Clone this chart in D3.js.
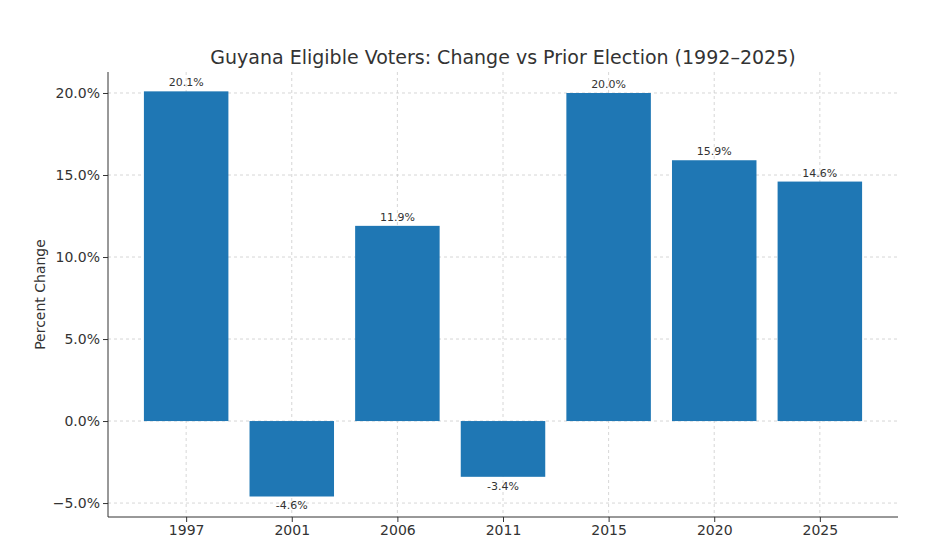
<!DOCTYPE html><html><head><meta charset="utf-8"><script src="https://cdn.jsdelivr.net/npm/d3@7"></script>
<style>body{margin:0;background:#fff}text{font-family:"DejaVu Sans",sans-serif}</style></head><body><svg id="c" width="932" height="539"></svg><script>
const years=["1997","2001","2006","2011","2015","2020","2025"];
const changes=[20.1,-4.6,11.9,-3.4,20.0,15.9,14.6];
const yTicks=[-5,0,5,10,15,20];
const svg=d3.select("#c");
const L=108,R=898,T=72,B=517;
const x=d3.scaleLinear().domain([-0.74,6.74]).range([L,R]);
const y=d3.scaleLinear().domain([-5.85,21.28]).range([B,T]);
const bw=x(0.8)-x(0);
const g=svg.append("g");
yTicks.forEach(t=>g.append("line").attr("x1",L).attr("x2",R).attr("y1",y(t)).attr("y2",y(t)).attr("stroke","#ccc").attr("stroke-dasharray","3,3").attr("stroke-width",0.8));
years.forEach((d,i)=>g.append("line").attr("x1",x(i)).attr("x2",x(i)).attr("y1",T).attr("y2",B).attr("stroke","#ccc").attr("stroke-dasharray","3,3").attr("stroke-width",0.8));
svg.selectAll("rect").data(changes).join("rect").attr("x",(d,i)=>x(i)-bw/2).attr("width",bw)
 .attr("y",d=>y(Math.max(d,0))).attr("height",d=>Math.abs(y(d)-y(0))).attr("fill","#1f77b4");
svg.selectAll(".lab").data(changes).join("text").attr("x",(d,i)=>x(i)).attr("y",d=>d>=0?y(d)-5:y(d)+13)
 .attr("text-anchor","middle").attr("font-size",11).attr("fill","#333").text(d=>d.toFixed(1)+"%");
const ya=svg.append("g").attr("transform",`translate(${L},0)`).call(d3.axisLeft(y).tickValues(yTicks).tickFormat(d=>(d<0?"\u2212":"")+Math.abs(d).toFixed(1)+"%").tickSize(5));
const xa=svg.append("g").attr("transform",`translate(0,${B})`).call(d3.axisBottom(x).tickValues(d3.range(7)).tickFormat(i=>years[i]).tickSize(5));
[ya,xa].forEach(a=>{a.selectAll("text").attr("font-size",14).attr("fill","#333");a.selectAll("line,path").attr("stroke","#333");});
ya.select(".domain").attr("d",`M0,${T}V${B}`);xa.select(".domain").attr("d",`M${L},0H${R}`);
svg.append("text").attr("x",(L+R)/2).attr("y",64).attr("text-anchor","middle").attr("font-size",19).attr("fill","#333").text("Guyana Eligible Voters: Change vs Prior Election (1992–2025)");
svg.append("text").attr("transform",`translate(45,${(T+B)/2}) rotate(-90)`).attr("text-anchor","middle").attr("font-size",14).attr("fill","#333").text("Percent Change");
</script></body></html>
